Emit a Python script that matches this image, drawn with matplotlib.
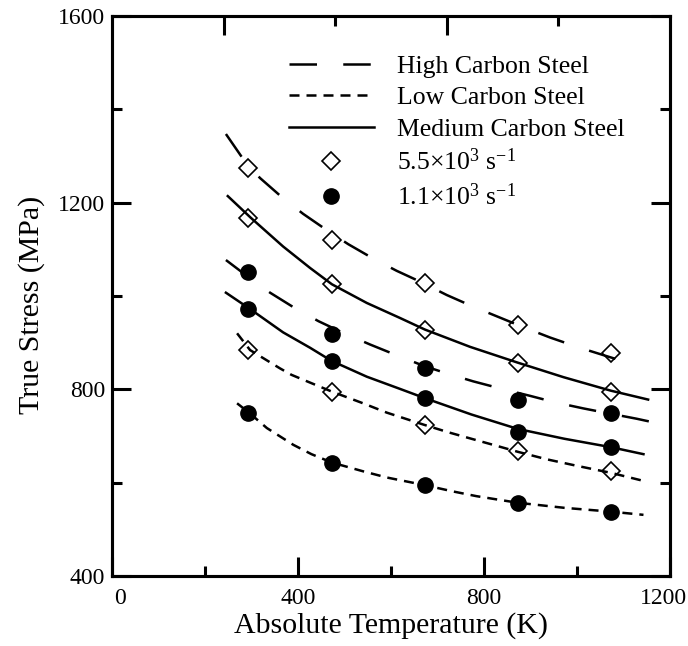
import matplotlib
matplotlib.use('Agg')
import matplotlib.pyplot as plt
import matplotlib.transforms as mtransforms

plt.rcParams['font.family'] = ['Liberation Serif', 'DejaVu Serif']
plt.rcParams['mathtext.default'] = 'regular'

# test temperatures (K)
temps = [293, 473, 673, 873, 1073]

# measured stress (MPa) at 5.5x10^3 1/s
high_fast = [1275, 1119, 1027, 938, 877]
med_fast = [1168, 1025, 927, 857, 795]
low_fast = [884, 795, 724, 667, 626]
# measured stress (MPa) at 1.1x10^3 1/s
high_slow = [1052, 918, 846, 777, 749]
med_slow = [972, 861, 781, 709, 677]
low_slow = [749, 643, 595, 556, 537]

# model curves
high_fast_T = [245, 281, 318, 365, 411, 462, 508, 562, 612, 662, 720, 777, 831, 885, 942, 1003, 1064, 1116]
high_fast_fit = [1347, 1295, 1253, 1212, 1176, 1141, 1111, 1080, 1054, 1031, 1002, 977, 955, 933, 911, 890, 871, 855]
med_fast_T = [249, 298, 368, 426, 473, 548, 619, 673, 770, 873, 971, 1073, 1153]
med_fast_fit = [1214, 1168, 1106, 1060, 1025, 985, 953, 928, 891, 857, 826, 797, 778]
low_fast_T = [269, 297, 361, 386, 422, 473, 540, 591, 671, 723, 773, 834, 873, 935, 1000, 1073, 1146]
low_fast_fit = [920, 884, 845, 831, 816, 795, 770, 750, 724, 708, 694, 677, 666, 650, 636, 621, 603]
high_slow_T = [245, 290, 340, 390, 444, 497, 555, 612, 671, 720, 777, 838, 899, 953, 1014, 1060, 1128, 1193]
high_slow_fit = [1077, 1043, 1007, 976, 946, 921, 896, 873, 850, 834, 817, 801, 786, 772, 759, 750, 737, 723]
med_slow_T = [245, 297, 368, 426, 472, 548, 619, 673, 773, 873, 973, 1073, 1143]
med_slow_fit = [1007, 972, 922, 889, 861, 827, 801, 781, 746, 715, 694, 676, 661]
low_slow_T = [269, 297, 333, 390, 429, 473, 541, 591, 641, 671, 734, 784, 834, 872, 973, 1071, 1143]
low_slow_fit = [770, 748, 717, 681, 661, 643, 624, 611, 601, 595, 581, 571, 563, 557, 546, 538, 531]

long_dash = (0, (11, 10.5))
short_dash = (0, (4, 2.8))
lw = 1.8

fig = plt.figure(figsize=(6.88, 6.46), dpi=100)
ax = fig.add_axes([0.1628, 0.1084, 0.811, 0.8669])

# curves (labelled ones go into the legend, in this order)
ax.plot(high_fast_T, high_fast_fit, color='black', lw=lw, ls=long_dash, label='High Carbon Steel')
ax.plot(low_fast_T, low_fast_fit, color='black', lw=lw, ls=short_dash, label='Low Carbon Steel')
ax.plot(med_fast_T, med_fast_fit, color='black', lw=lw, ls='-', label='Medium Carbon Steel')
ax.plot(high_slow_T, high_slow_fit, color='black', lw=lw, ls=long_dash)
ax.plot(low_slow_T, low_slow_fit, color='black', lw=lw, ls=short_dash)
ax.plot(med_slow_T, med_slow_fit, color='black', lw=lw, ls='-')

# measured points
fast_style = dict(ls='none', marker='D', ms=9.2, mfc='none', mec='black', mew=1.2)
slow_style = dict(ls='none', marker='o', ms=11, mfc='black', mec='black')
ax.plot(temps, high_fast, label='5.5×10$^{3}$ s$^{-1}$', **fast_style)
ax.plot(temps, high_slow, label='1.1×10$^{3}$ s$^{-1}$', **slow_style)
ax.plot(temps, med_fast, **fast_style)
ax.plot(temps, low_fast, **fast_style)
ax.plot(temps, med_slow, **slow_style)
ax.plot(temps, low_slow, **slow_style)

ax.set_xlim(0, 1200)
ax.set_ylim(400, 1600)
ax.set_xticks([0, 400, 800, 1200])
ax.set_xticks([200, 600, 1000], minor=True)
ax.set_yticks([400, 800, 1200, 1600])
ax.set_yticks([600, 1000, 1400], minor=True)
ax.tick_params(which='both', direction='in', width=2.2, top=False, right=True, labelsize=17)
ax.tick_params(which='major', length=13.5)
ax.tick_params(which='minor', length=7)
ax.tick_params(axis='x', pad=9)
ax.tick_params(axis='y', pad=5)
for s in ax.spines.values():
    s.set_linewidth(2.2)

# end labels sit a little inward, as in the original
xlabels = ax.get_xticklabels()
xlabels[0].set_transform(xlabels[0].get_transform() + mtransforms.ScaledTranslation(8 / 100, 0, fig.dpi_scale_trans))
xlabels[-1].set_transform(xlabels[-1].get_transform() + mtransforms.ScaledTranslation(-6 / 100, 0, fig.dpi_scale_trans))

# top axis has its own tick spacing
top = ax.twiny()
top.set_xlim(0, 1200)
top.set_xticks([240, 720])
top.set_xticks([480, 960], minor=True)
top.tick_params(which='both', direction='in', width=2.2, labeltop=False)
top.tick_params(which='major', length=13.5)
top.tick_params(which='minor', length=7)
for s in top.spines.values():
    s.set_linewidth(2.2)

ax.set_xlabel('Absolute Temperature (K)', fontsize=21.5)
ax.set_ylabel('True Stress (MPa)', fontsize=21.5)
ax.xaxis.set_label_coords(0.5, -0.064)
ax.yaxis.set_label_coords(-0.12, 0.484)

ax.legend(loc='upper left', bbox_to_anchor=(0.317, 0.93), frameon=False, fontsize=18.5,
          handlelength=3.3, handletextpad=0.9, labelspacing=0.32, borderpad=0, borderaxespad=0,
          numpoints=1)

fig.savefig('out.png', dpi=100)
